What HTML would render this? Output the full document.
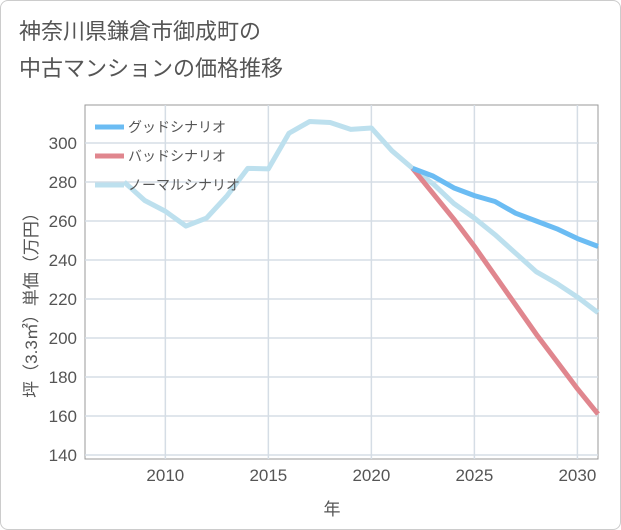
<!DOCTYPE html>
<html><head><meta charset="utf-8"><style>
body{margin:0;background:#fff;font-family:"Liberation Sans","Noto Sans CJK JP",sans-serif;}
#wrap{position:relative;width:619px;height:528px;border:1px solid #ccc;border-radius:8px;overflow:hidden;background:#fff}
#title{position:absolute;left:18px;top:12px;font-size:22px;line-height:37px;color:#555;}
</style></head><body>
<div id="wrap">
<div id="title">神奈川県鎌倉市御成町の<br>中古マンションの価格推移</div>
<svg id="chart" width="621" height="530" style="position:absolute;left:0;top:0"></svg>
</div>
<script>
const years=[2008,2009,2010,2011,2012,2013,2014,2015,2016,2017,2018,2019,2020,2021,2022,2023,2024,2025,2026,2027,2028,2029,2030,2031];
const normalHist=[280,270.5,265,257.4,261.5,273,287,286.7,305,311,310.5,307,307.7,296,287];
const futureYears=[2022,2023,2024,2025,2026,2027,2028,2029,2030,2031];
const goodVals=[287,283,277,273,270,264,260,256,251,247];
const badVals=[287,274,261,247,232,217,202,188,174,161];
const normalVals=[287,279,269,261.5,253,243.5,234,228,221,213];
const yTicks=[140,160,180,200,220,240,260,280,300];
const xTicks=[2010,2015,2020,2025,2030];
const L=84,R=597,T=104,B=458;
const x=y=>L+(y-2006.1)/(2031-2006.1)*(R-L);
const yv=v=>142+(300-v)*1.95;
const svg=document.getElementById('chart');const NS='http://www.w3.org/2000/svg';
function mk(t,a){const e=document.createElementNS(NS,t);for(const k in a)e.setAttribute(k,a[k]);svg.appendChild(e);return e;}
let bg=mk('rect',{x:L,y:T,width:R-L,height:B-T,fill:'#fff',stroke:'#999'});


yTicks.forEach(v=>{
 let g=mk('line',{x1:L,x2:R,y1:yv(v),y2:yv(v),stroke:'#d5dde5','stroke-width':1.5});
 
 
 let t=mk('text',{x:L-8,y:yv(v)+6,'text-anchor':'end','font-size':17,fill:'#555'});t.textContent=v;
 
 
});
xTicks.forEach(v=>{
 let g=mk('line',{x1:x(v),x2:x(v),y1:T,y2:B,stroke:'#d5dde5','stroke-width':1.5});
 
 
 let t=mk('text',{x:x(v),y:B+22,'text-anchor':'middle','font-size':17,fill:'#555'});t.textContent=v;
 
 
});
function line(xs,vs,c,n){
 let p=mk('polyline',{points:xs.map((yy,i)=>x(yy)+','+yv(vs[i])).join(' '),fill:'none',stroke:c,'stroke-width':5,'stroke-linejoin':'round'});
 
 
}
line(years.slice(0,normalHist.length),normalHist,'#bde0ee','normal-history-line');
line(futureYears,normalVals,'#bde0ee','normal-scenario-line');
line(futureYears,badVals,'#e0868e','bad-scenario-line');
line(futureYears,goodVals,'#6bbcf3','good-scenario-line');
const legNames=['グッドシナリオ','バッドシナリオ','ノーマルシナリオ'];
const legColors=['#6bbcf3','#e0868e','#bde0ee'];
legNames.forEach((n,i)=>{
 let yy=126+i*29;
 let l=mk('line',{x1:94,x2:123,y1:yy,y2:yy,stroke:legColors[i],'stroke-width':5});
 
 
 let t=mk('text',{x:127,y:yy+5,'font-size':14,fill:'#555'});t.textContent=n;
 
 
});
let yt=mk('text',{x:0,y:0,'font-size':17,fill:'#555','text-anchor':'middle',transform:'translate(36,300) rotate(-90)'});yt.textContent='坪（3.3㎡）単価（万円）';


let xt=mk('text',{x:331,y:514,'font-size':17,fill:'#555','text-anchor':'middle'});xt.textContent='年';


</script>
</body></html>
